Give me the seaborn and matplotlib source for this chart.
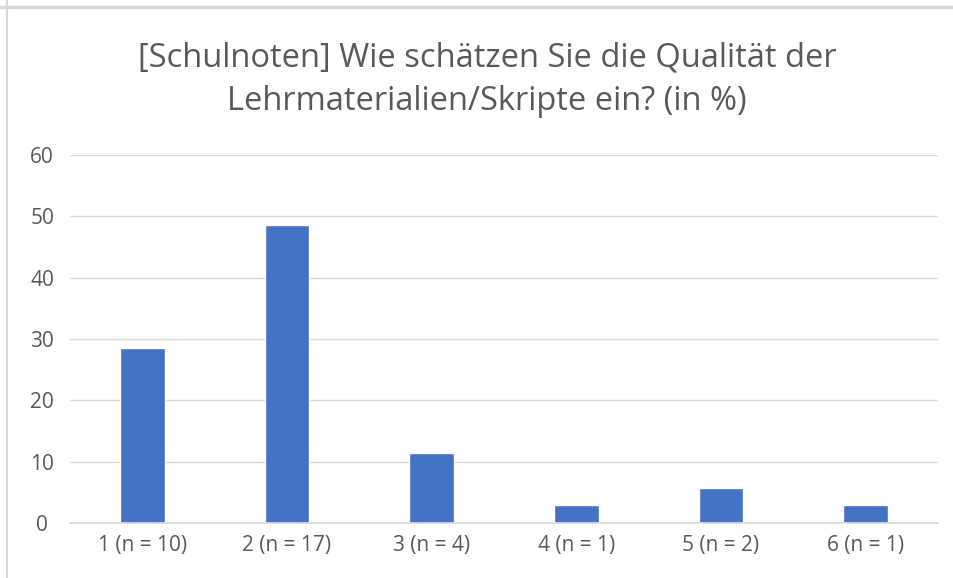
import matplotlib
matplotlib.use("Agg")
import matplotlib.pyplot as plt
import seaborn as sns
import pandas as pd
from matplotlib.lines import Line2D

categories = ["1 (n = 10)", "2 (n = 17)", "3 (n = 4)", "4 (n = 1)", "5 (n = 2)", "6 (n = 1)"]
values = [28.57, 48.57, 11.43, 2.86, 5.71, 2.86]
yticks = [0, 10, 20, 30, 40, 50, 60]
title = "[Schulnoten] Wie schätzen Sie die Qualität der\nLehrmaterialien/Skripte ein? (in %)"

sns.set_theme(style="white")
plt.rcParams['font.family'] = ['Open Sans', 'DejaVu Sans']
txt = "#595959"

W, H = 954, 578
fig = plt.figure(figsize=(W/100, H/100), dpi=100)
ax = fig.add_axes([70/W, 1-523/H, (938-70)/W, (523-155)/H])

df = pd.DataFrame({"cat": categories, "val": values})
sns.barplot(data=df, x="cat", y="val", color="#4472C4", saturation=1, width=0.31, ax=ax)

ax.set_ylim(0, 60)
ax.set_yticks(yticks)
ax.set_xlim(-0.5, 5.5)
ax.yaxis.grid(True, color="#D9D9D9", linewidth=1)
ax.set_axisbelow(True)
for s in ["top", "right", "left"]:
    ax.spines[s].set_visible(False)
ax.spines["bottom"].set_color("#D9D9D9")
ax.spines["bottom"].set_linewidth(1.2)
ax.set_xlabel("")
ax.set_ylabel("")
ax.tick_params(axis="both", length=0, labelsize=15, colors=txt)
ax.tick_params(axis="x", pad=9)
ax.tick_params(axis="y", pad=20)
for lab in ax.get_yticklabels():
    lab.set_horizontalalignment("center")

fig.text(487/W, 1-80/H, title, ha="center", va="center", fontsize=23.5, color=txt, linespacing=1.43)

fig.add_artist(Line2D([0, 1], [1-7/H, 1-7/H], transform=fig.transFigure, color="#D9D9D9", linewidth=2.5))
fig.add_artist(Line2D([7/W, 7/W], [0, 1], transform=fig.transFigure, color="#D9D9D9", linewidth=1.5))

fig.savefig("out.png", dpi=100)
